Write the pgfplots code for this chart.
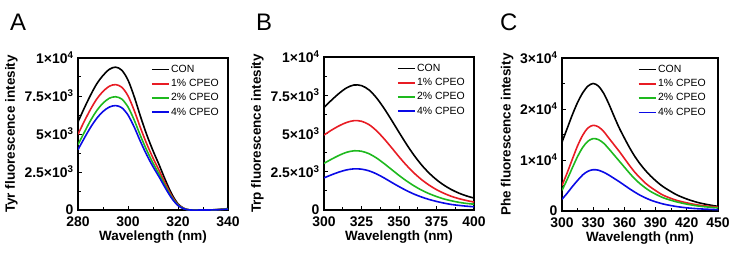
\documentclass[border=0pt]{standalone}
\usepackage{pgfplots}
\pgfplotsset{compat=1.18}
\usepackage{fontspec}
\setmainfont{Liberation Sans}
\definecolor{cred}{RGB}{232,28,36}
\definecolor{cgreen}{RGB}{30,185,30}
\definecolor{cblue}{RGB}{10,10,230}
\pgfplotsset{
  panel/.style={
    scale only axis, anchor=south west,
    scaled y ticks=false, scaled x ticks=false,
    axis line style={line width=1.2bp},
    every tick/.style={black, line width=1bp},
    major tick length=4bp, minor tick length=3bp,
    tick align=inside, xtick pos=bottom, ytick pos=left,
    ticklabel style={font=\bfseries\fontsize{14}{14}\selectfont},
    yticklabel style={xshift=-1bp},
    xticklabel style={yshift=-3.5bp},
    label style={font=\bfseries\fontsize{13.5}{13.5}\selectfont},
    xlabel style={yshift=3.5bp},
    ymin=0,
    legend style={at={(rel axis cs:0.485,0.965)}, anchor=north west, draw=none, fill=none,
      font=\fontsize{10.5}{12}\selectfont, row sep=2.5bp, inner sep=0pt, nodes={inner sep=1.5bp}},
    legend cell align=left,
    legend image code/.code={\draw[##1, line width=1.7bp] (0bp,0bp) -- (17bp,0bp);},
    every axis plot/.append style={line width=1.6bp, smooth, no markers},
  }
}
\begin{document}
\begin{tikzpicture}[x=1bp,y=1bp]
\useasboundingbox (0,0) rectangle (734,259);
\node[anchor=base west, font=\fontsize{24}{24}\selectfont, inner sep=0pt] at (10,229) {A};
\node[anchor=base west, font=\fontsize{24}{24}\selectfont, inner sep=0pt] at (256,229) {B};
\node[anchor=base west, font=\fontsize{24}{24}\selectfont, inner sep=0pt] at (500,229) {C};

% Panel A
\begin{axis}[panel, at={(78bp,49bp)}, width=150bp, height=152bp,
  xmin=280, xmax=340, ymax=10000,
  xtick={280,300,320,340}, xticklabels={280,300,320,340}, minor x tick num=1,
  ytick={0,2500,5000,7500,10000},
  yticklabels={0,2.5×10\textsuperscript{3},5×10\textsuperscript{3},7.5×10\textsuperscript{3},1×10\textsuperscript{4}},
  minor y tick num=1,
  xlabel={Wavelength (nm)}, ylabel={Tyr fluorescence intesity}]
\addplot[black] coordinates {(280,5800)(282.5,6700)(285,7550)(287.5,8300)(290,8850)(292.5,9250)(295,9400)(297.5,9200)(300,8550)(302.5,7450)(305,6150)(307.5,4950)(310,3900)(312.5,2950)(315,1950)(317.5,1050)(320,400)(322.5,100)(325,0)(330,0)(335,20)(340,90)};
\addplot[cred] coordinates {(280,4980)(282.5,5830)(285,6620)(287.5,7300)(290,7800)(292.5,8140)(295,8250)(297.5,8080)(300,7510)(302.5,6540)(305,5400)(307.5,4350)(310,3420)(312.5,2590)(315,1710)(317.5,920)(320,350)(322.5,90)(325,0)(330,0)(335,15)(340,80)};
\addplot[cgreen] coordinates {(280,4300)(282.5,5100)(285,5880)(287.5,6540)(290,7030)(292.5,7350)(295,7450)(297.5,7300)(300,6780)(302.5,5910)(305,4880)(307.5,3930)(310,3090)(312.5,2340)(315,1550)(317.5,830)(320,320)(322.5,80)(325,0)(330,0)(335,15)(340,70)};
\addplot[cblue] coordinates {(280,3970)(282.5,4720)(285,5430)(287.5,6030)(290,6480)(292.5,6770)(295,6870)(297.5,6730)(300,6250)(302.5,5450)(305,4500)(307.5,3620)(310,2850)(312.5,2160)(315,1430)(317.5,770)(320,290)(322.5,70)(325,0)(330,0)(335,10)(340,60)};
\legend{CON,1\% CPEO,2\% CPEO,4\% CPEO}
\end{axis}

% Panel B
\begin{axis}[panel, at={(324bp,49bp)}, width=150bp, height=153bp,
  xmin=300, xmax=400, ymax=10000,
  xtick={300,325,350,375,400}, xticklabels={300,325,350,375,400}, minor x tick num=1,
  ytick={0,2500,5000,7500,10000},
  yticklabels={0,2.5×10\textsuperscript{3},5×10\textsuperscript{3},7.5×10\textsuperscript{3},1×10\textsuperscript{4}},
  minor y tick num=1,
  xlabel={Wavelength (nm)}, ylabel={Trp fluorescence intesity}]
\addplot[black] coordinates {(300,6700)(305,7180)(310,7620)(315,7980)(320,8170)(325,8130)(330,7850)(335,7330)(340,6650)(345,5880)(350,5080)(355,4300)(360,3580)(365,2950)(370,2420)(375,1980)(380,1620)(385,1330)(390,1100)(395,920)(400,780)};
\addplot[cred] coordinates {(300,4900)(305,5220)(310,5500)(315,5720)(320,5840)(325,5800)(330,5580)(335,5180)(340,4660)(345,4080)(350,3480)(355,2920)(360,2420)(365,1990)(370,1630)(375,1330)(380,1090)(385,890)(390,740)(395,620)(400,520)};
\addplot[cgreen] coordinates {(300,3050)(305,3320)(310,3570)(315,3770)(320,3870)(325,3840)(330,3680)(335,3400)(340,3040)(345,2650)(350,2260)(355,1900)(360,1580)(365,1300)(370,1070)(375,880)(380,720)(385,600)(390,500)(395,430)(400,380)};
\addplot[cblue] coordinates {(300,2100)(305,2300)(310,2480)(315,2620)(320,2690)(325,2670)(330,2560)(335,2360)(340,2100)(345,1810)(350,1530)(355,1270)(360,1040)(365,850)(370,690)(375,560)(380,450)(385,360)(390,300)(395,250)(400,210)};
\legend{CON,1\% CPEO,2\% CPEO,4\% CPEO}
\end{axis}

% Panel C
\begin{axis}[panel, at={(562bp,48bp)}, width=156bp, height=153bp,
  xmin=300, xmax=450, ymax=30000,
  xtick={300,330,360,390,420,450}, xticklabels={300,330,360,390,420,450}, minor x tick num=1,
  ytick={0,10000,20000,30000},
  yticklabels={0,1×10\textsuperscript{4},2×10\textsuperscript{4},3×10\textsuperscript{4}},
  minor y tick num=1,
  xlabel={Wavelength (nm)}, ylabel={Phe fluorescence intesity}]
\addplot[black] coordinates {(300,13500)(305,16200)(310,18900)(315,21300)(320,23200)(325,24500)(330,25000)(335,24500)(340,23100)(345,21000)(350,18600)(355,16300)(360,14300)(365,12400)(370,10700)(375,9250)(380,8000)(385,6900)(390,5950)(395,5100)(400,4400)(410,3200)(420,2350)(430,1700)(440,1250)(450,900)};
\addplot[cred] coordinates {(300,5000)(305,7500)(310,10200)(315,12800)(320,14900)(325,16300)(330,16800)(335,16500)(340,15600)(345,14300)(350,13000)(355,11700)(360,10300)(365,8900)(370,7600)(375,6500)(380,5500)(385,4700)(390,4000)(395,3350)(400,2850)(410,2100)(420,1600)(430,1200)(440,950)(450,750)};
\addplot[cgreen] coordinates {(300,4050)(305,6200)(310,8500)(315,10700)(320,12500)(325,13700)(330,14200)(335,14000)(340,13300)(345,12200)(350,11000)(355,9800)(360,8600)(365,7400)(370,6300)(375,5350)(380,4550)(385,3850)(390,3300)(395,2800)(400,2400)(410,1800)(420,1350)(430,1000)(440,780)(450,620)};
\addplot[cblue] coordinates {(300,2300)(305,3500)(310,4800)(315,6000)(320,7100)(325,7800)(330,8100)(335,8000)(340,7600)(345,7050)(350,6400)(355,5750)(360,5050)(365,4350)(370,3700)(375,3100)(380,2600)(385,2150)(390,1800)(395,1500)(400,1250)(410,880)(420,620)(430,450)(440,340)(450,260)};
\legend{CON,1\% CPEO,2\% CPEO,4\% CPEO}
\end{axis}
\end{tikzpicture}
\end{document}
